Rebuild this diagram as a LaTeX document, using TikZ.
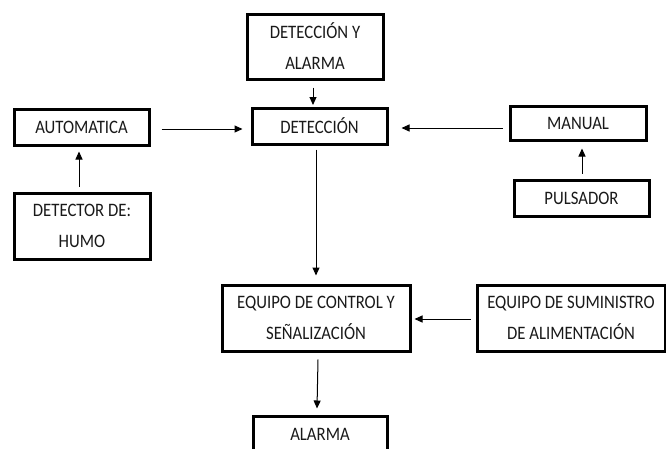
\documentclass[tikz,border=0pt]{standalone}
\usepackage{fontspec}
\usepackage{graphicx}
\setmainfont{Carlito}
\usetikzlibrary{arrows.meta,calc}
\newcommand{\sq}[1]{\scalebox{0.88}[1]{#1}}
\begin{document}
\begin{tikzpicture}[x=1pt,y=-1pt,
  box/.style={draw=black,line width=3pt,rectangle,inner sep=0pt,align=center,
    font=\fontsize{19}{31}\selectfont,text=black!90},
  arr/.style={line width=1pt,-{Triangle[length=8pt,width=7pt]}}]
\useasboundingbox (0,0) rectangle (666,448);
\clip (0,0) rectangle (666,448);
\fill[white] (0,0) rectangle (666,448);
\node[box,minimum width=136pt,minimum height=65pt] (da) at (315,46.5) {\sq{DETECCIÓN Y}\\\sq{ALARMA}};
\node[box,minimum width=135pt,minimum height=36pt] (det) at (319.5,126) {\sq{DETECCIÓN}};
\node[box,minimum width=135pt,minimum height=36pt] (auto) at (81.5,127) {\sq{AUTOMATICA}};
\node[box,minimum width=136pt,minimum height=34pt] (man) at (578,123) {\sq{MANUAL}};
\node[box,minimum width=136pt,minimum height=66pt] (humo) at (82,226) {\sq{DETECTOR DE:}\\\sq{HUMO}};
\node[box,minimum width=135pt,minimum height=36pt] (puls) at (581.5,198) {\sq{PULSADOR}};
\node[box,minimum width=188pt,minimum height=66pt] (ctrl) at (316,318) {\sq{EQUIPO DE CONTROL Y}\\\sq{SEÑALIZACIÓN}};
\node[box,minimum width=188pt,minimum height=66pt] (sum) at (571,318) {\sq{EQUIPO DE SUMINISTRO}\\\sq{DE ALIMENTACIÓN}};
\node[box,minimum width=134pt,minimum height=36pt] (alarma) at (320,434) {\sq{ALARMA}};
% connectors
\draw[arr] ($(da.south)+(-2,7)$) -- ($(det.north)+(-6.5,-1.5)$);
\draw[arr] ($(auto.east)+(11,2)$) -- ($(det.west)+(-8,3)$);
\draw[arr] ($(man.west)+(-6,5)$) -- ($(det.east)+(13,2)$);
\draw[arr] ($(humo.north)+(-3,-5)$) -- ($(auto.south)+(-2.5,5)$);
\draw[arr] ($(puls.north)+(0.5,-5)$) -- ($(man.south)+(4,7)$);
\draw[arr] ($(det.south)+(-3.5,4)$) -- ($(ctrl.north)+(0,-8)$);
\draw[arr] ($(sum.west)+(-5,1)$) -- ($(ctrl.east)+(3,1)$);
\draw[arr] ($(ctrl.south)+(2,7)$) -- ($(alarma.north)+(-3,-6)$);
\end{tikzpicture}
\end{document}
